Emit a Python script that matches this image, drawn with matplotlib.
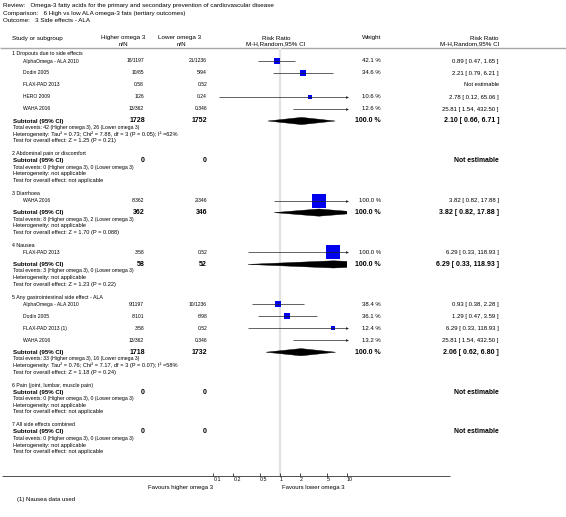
import numpy as np
import matplotlib
matplotlib.use('Agg')
import matplotlib.pyplot as plt
from matplotlib.patches import Polygon
from matplotlib import font_manager

try:
    font_manager.findfont('Liberation Sans Narrow', fallback_to_default=False)
    plt.rcParams['font.family'] = ['Liberation Sans Narrow', 'DejaVu Sans']
    K = 1.0
except ValueError:
    plt.rcParams['font.family'] = ['Liberation Sans', 'DejaVu Sans']
    K = 0.82

# ---------------- data ----------------
review_text = "Review:   Omega-3 fatty acids for the primary and secondary prevention of cardiovascular disease"
comparison_text = "Comparison:   6 High vs low ALA omega-3 fats (tertiary outcomes)"
outcome_text = "Outcome:   3 Side effects - ALA"

group_titles = [
    "1 Dropouts due to side effects",
    "2 Abdominal pain or discomfort",
    "3 Diarrhoea",
    "4 Nausea",
    "5 Any gastrointestinal side effect - ALA",
    "6 Pain (joint, lumbar, muscle pain)",
    "7 All side effects combined",
]

study_names = [
    ["AlphaOmega - ALA 2010", "Dodin 2005", "FLAX-PAD 2013", "HERO 2009", "WAHA 2016"],
    [],
    ["WAHA 2016"],
    ["FLAX-PAD 2013"],
    ["AlphaOmega - ALA 2010", "Dodin 2005", "FLAX-PAD 2013 (1)", "WAHA 2016"],
    [],
    [],
]
events_high = [
    ["18/1197", "10/85", "0/58", "1/26", "13/362"], [], ["8/362"], ["3/58"],
    ["9/1197", "8/101", "3/58", "13/362"], [], [],
]
events_low = [
    ["21/1236", "5/94", "0/52", "0/24", "0/346"], [], ["2/346"], ["0/52"],
    ["10/1236", "6/98", "0/52", "0/346"], [], [],
]
weights = [
    [42.1, 34.6, np.nan, 10.6, 12.6], [], [100.0], [100.0],
    [38.4, 36.1, 12.4, 13.2], [], [],
]
risk_ratio = [
    [0.89, 2.21, np.nan, 2.78, 25.81], [], [3.82], [6.29],
    [0.93, 1.29, 6.29, 25.81], [], [],
]
ci_low = [
    [0.47, 0.79, np.nan, 0.12, 1.54], [], [0.82], [0.33],
    [0.38, 0.47, 0.33, 1.54], [], [],
]
ci_high = [
    [1.65, 6.21, np.nan, 65.06, 432.50], [], [17.88], [118.93],
    [2.28, 3.59, 118.93, 432.50], [], [],
]

subtotal_n_high = [1728, 0, 362, 58, 1718, 0, 0]
subtotal_n_low = [1752, 0, 346, 52, 1732, 0, 0]
subtotal_rr = [2.10, np.nan, 3.82, 6.29, 2.06, np.nan, np.nan]
subtotal_lo = [0.66, np.nan, 0.82, 0.33, 0.62, np.nan, np.nan]
subtotal_hi = [6.71, np.nan, 17.88, 118.93, 6.80, np.nan, np.nan]
total_events_high = [42, 0, 8, 3, 33, 0, 0]
total_events_low = [26, 0, 2, 0, 16, 0, 0]
heterogeneity = [
    "Heterogeneity: Tau² = 0.73; Chi² = 7.88, df = 3 (P = 0.05); I² =62%",
    "Heterogeneity: not applicable",
    "Heterogeneity: not applicable",
    "Heterogeneity: not applicable",
    "Heterogeneity: Tau² = 0.76; Chi² = 7.17, df = 3 (P = 0.07); I² =58%",
    "Heterogeneity: not applicable",
    "Heterogeneity: not applicable",
]
overall_effect = [
    "Test for overall effect: Z = 1.25 (P = 0.21)",
    "Test for overall effect: not applicable",
    "Test for overall effect: Z = 1.70 (P = 0.088)",
    "Test for overall effect: Z = 1.23 (P = 0.22)",
    "Test for overall effect: Z = 1.18 (P = 0.24)",
    "Test for overall effect: not applicable",
    "Test for overall effect: not applicable",
]
tick_values = [0.1, 0.2, 0.5, 1, 2, 5, 10]
tick_labels = ["0.1", "0.2", "0.5", "1", "2", "5", "10"]
favours_left = "Favours higher omega 3"
favours_right = "Favours lower omega 3"
footnote = "(1) Nausea data used"

# ---------------- layout / style ----------------
W, H = 566, 517
fig = plt.figure(figsize=(W / 100, H / 100), dpi=100)
fig.patch.set_facecolor('white')

bg = fig.add_axes([0, 0, 1, 1])
bg.set_xlim(0, W)
bg.set_ylim(H, 0)
bg.axis('off')

AXIS_Y = 476.0
FX0, FX1 = 213.3, 346.7
XMIN, XMAX = 0.1, 10.0
fa = fig.add_axes([FX0 / W, (H - AXIS_Y) / H, (FX1 - FX0) / W, AXIS_Y / H])
fa.set_xscale('log')
fa.set_xlim(XMIN, XMAX)
fa.set_ylim(AXIS_Y, 0)
fa.patch.set_alpha(0)
for sp in fa.spines.values():
    sp.set_visible(False)
fa.set_yticks([])
fa.set_xticks(tick_values)
fa.set_xticklabels(tick_labels)
fa.xaxis.set_minor_locator(matplotlib.ticker.NullLocator())
fa.tick_params(axis='x', direction='in', length=2.2, width=0.5, pad=1.0,
               labelsize=4.6 * K, colors='black')
for lab in fa.get_xticklabels():
    lab.set_ha('left')

S_NAME = 4.4 * K
S_TITLE = 4.6 * K
S_EVT = 4.5 * K
S_INFO = 4.9 * K
S_HEAD = 5.5 * K
S_NUM = 5.3 * K
S_BOLD = 5.4 * K
S_BOLDNUM = 6.1 * K
TXT = 'black'
BOX = '#0000ee'

X_NAME = 23
X_GROUP = 12
X_HIGH = 144
X_LOW = 207
X_WEIGHT = 381
X_RR = 499


def t(x, y, s, size=S_NAME, ha='left', bold=False, **kw):
    bg.text(x, y, s, fontsize=size, ha=ha, va='center', color=TXT,
            fontweight='bold' if bold else 'normal', **kw)


# header
t(3, 6, review_text, S_HEAD)
t(3, 13, comparison_text, S_HEAD)
t(3, 20, outcome_text, S_HEAD)
t(X_GROUP, 38.5, "Study or subgroup", S_HEAD)
t(123, 38, "Higher omega 3", S_HEAD, ha='center')
t(123, 44, "n/N", S_HEAD, ha='center')
t(180, 38, "Lower omega 3", S_HEAD, ha='center')
t(181, 44, "n/N", S_HEAD, ha='center')
t(276, 38, "Risk Ratio", S_HEAD, ha='center')
t(276, 44, "M-H,Random,95% CI", S_HEAD, ha='center')
t(X_WEIGHT, 38, "Weight", S_HEAD, ha='right')
t(X_RR, 38, "Risk Ratio", S_HEAD, ha='right')
t(X_RR, 44, "M-H,Random,95% CI", S_HEAD, ha='right')
HEADER_LINE_Y = 47.5
bg.hlines(HEADER_LINE_Y, 0, W, color='#a8a8a8', lw=1.0)

# reference line at RR = 1
fa.vlines(1.0, HEADER_LINE_Y, AXIS_Y, color='#e2e2e2', lw=1.6, zorder=0)


def rr_text(r, lo, hi):
    return f"{r:.2f} [ {lo:.2f}, {hi:.2f} ]"


def draw_ci(y, lo, hi):
    a = np.clip(lo, XMIN, XMAX)
    b = np.clip(hi, XMIN, XMAX)
    fa.hlines(y, a, b, color='#222222', lw=0.5, zorder=3)
    if hi > XMAX:
        fa.plot([XMAX], [y], marker='>', ms=2.0, color='#222222', mew=0,
                clip_on=False, zorder=3)
    if lo < XMIN:
        fa.plot([XMIN], [y], marker='<', ms=2.0, color='#222222', mew=0,
                clip_on=False, zorder=3)


TITLE_TO_STUDY = 7.0
STUDY_STEP = 12.0
STUDY_TO_SUB = 12.0
TITLE_TO_SUB = 7.0
INFO_OFFS = (6.5, 13.2, 19.9)
INFO_TO_TITLE = 12.9

y = 54.0
for g in range(len(group_titles)):
    t(X_GROUP, y, group_titles[g], S_TITLE)
    names = study_names[g]
    y += TITLE_TO_STUDY if names else TITLE_TO_SUB
    for i, name in enumerate(names):
        if i > 0:
            y += STUDY_STEP
        t(X_NAME, y, name)
        t(X_HIGH, y, events_high[g][i], ha='right')
        t(X_LOW, y, events_low[g][i], ha='right')
        r, lo, hi, w = risk_ratio[g][i], ci_low[g][i], ci_high[g][i], weights[g][i]
        if np.isnan(r):
            t(X_RR, y, "Not estimable", 5.1 * K, ha='right')
            continue
        t(X_WEIGHT, y, f"{w:.1f} %", S_NUM, ha='right')
        t(X_RR, y, rr_text(r, lo, hi), S_NUM, ha='right')
        if XMIN <= r <= XMAX:
            side_px = 2.0 + 11.3 * w / 100.0
            fa.plot([r], [y], marker='s', ms=side_px * 0.72, color=BOX,
                    mec=BOX, mew=0, zorder=2)
        draw_ci(y, lo, hi)
    if names:
        y += STUDY_TO_SUB
    # subtotal row
    t(13, y, "Subtotal (95% CI)", S_BOLD, bold=True)
    t(X_HIGH + 1, y, str(subtotal_n_high[g]), S_BOLDNUM, ha='right', bold=True)
    t(X_LOW, y, str(subtotal_n_low[g]), S_BOLDNUM, ha='right', bold=True)
    sr, slo, shi = subtotal_rr[g], subtotal_lo[g], subtotal_hi[g]
    if np.isnan(sr):
        t(X_RR, y, "Not estimable", 5.9 * K, ha='right', bold=True)
    else:
        t(X_WEIGHT, y, "100.0 %", S_BOLDNUM, ha='right', bold=True)
        t(X_RR, y, rr_text(sr, slo, shi), S_BOLDNUM, ha='right', bold=True)
        hh = 3.6
        diamond = Polygon([[slo, y], [sr, y - hh], [shi, y], [sr, y + hh]],
                          closed=True, facecolor='black', edgecolor='black',
                          lw=0.3, zorder=3)
        fa.add_patch(diamond)
    t(13, y + INFO_OFFS[0], f"Total events: {total_events_high[g]} (Higher omega 3), "
                            f"{total_events_low[g]} (Lower omega 3)", S_EVT)
    t(13, y + INFO_OFFS[1], heterogeneity[g], S_INFO)
    t(13, y + INFO_OFFS[2], overall_effect[g], S_INFO)
    y += INFO_OFFS[2] + INFO_TO_TITLE

# bottom axis
bg.hlines(AXIS_Y, 2, 450, color='#333333', lw=0.6)
t(213, 487, favours_left, 5.3 * K, ha='right')
t(282, 487, favours_right, 5.3 * K, ha='left')
t(17, 499, footnote, 5.3 * K)

fig.savefig('out.png', dpi=100, facecolor='white')
